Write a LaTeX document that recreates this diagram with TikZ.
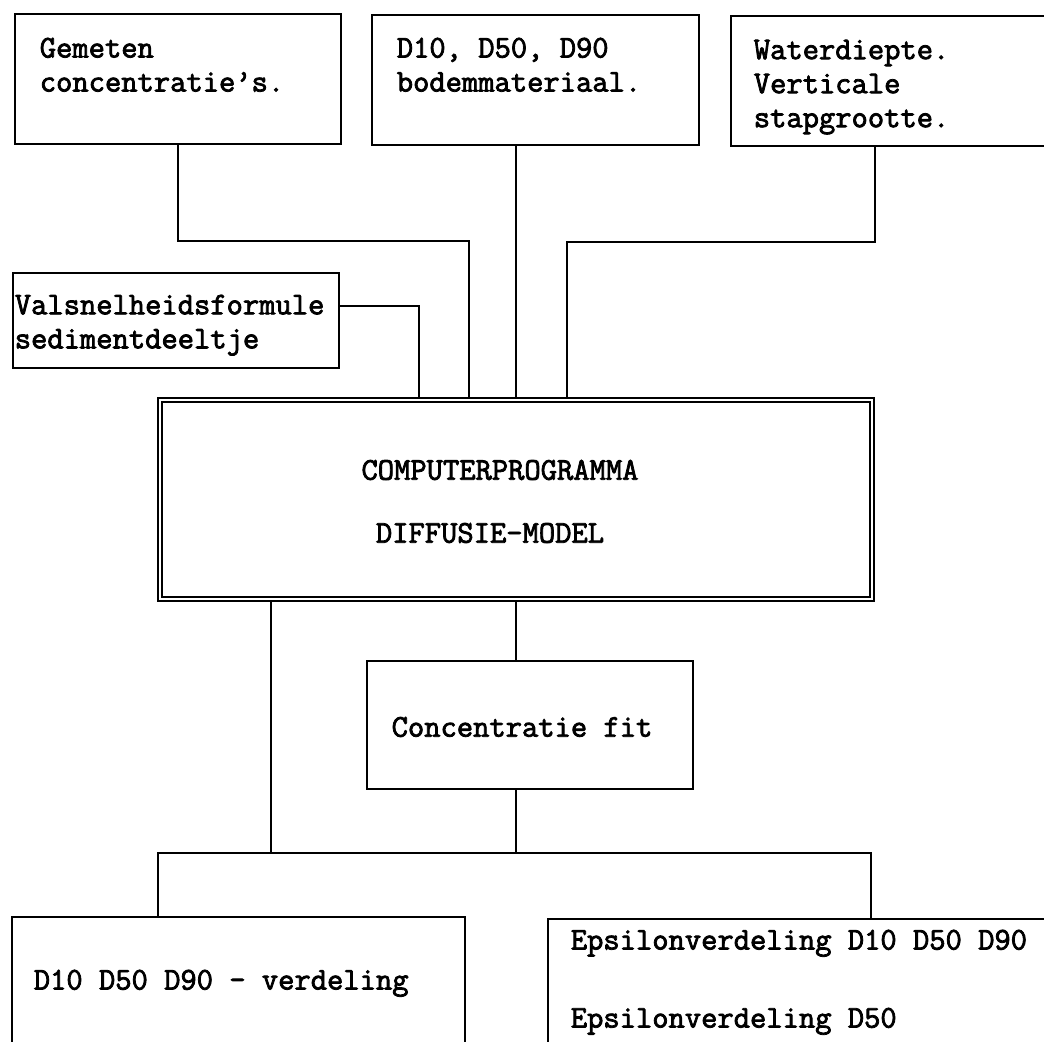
\documentclass[tikz,border=0pt]{standalone}
\usepackage{fontspec}
\setmonofont{Latin Modern Mono}[AutoFakeBold=2.5]
\usetikzlibrary{calc,fit}

\begin{document}
\begin{tikzpicture}[
  x=0.025cm, y=-0.025cm,
  box/.style={rectangle, draw, line width=2.1pt, inner sep=0pt},
  hoofdbox/.style={box, double, line width=1.8pt, double distance=1.2pt},
  tekst/.style={inner sep=0pt, align=left, font=\ttfamily\bfseries\fontsize{22.5}{24.2}\selectfont},
  lijn/.style={line width=2pt}
]
\useasboundingbox (0,0) rectangle (1044,1041);

\node[box, fit={(15,14) (341,144)}] (gemeten) {};
\node[box, fit={(372,15) (699,145)}] (korrel) {};
\node[box, fit={(731,16) (1100,146)}] (diepte) {};
\node[box, fit={(13,273) (339,368)}] (valsnelheid) {};
\node[hoofdbox, fit={(160,400) (872,599)}] (model) {};
\node[box, fit={(367,661) (693,789)}] (fit) {};
\node[box, fit={(12,917) (465,1100)}] (korrelverd) {};
\node[box, fit={(548,919) (1100,1100)}] (epsilon) {};

\node[tekst, anchor=north west] (gemetentxt) at ($(gemeten.north west)+(26,25)$) {Gemeten\\concentratie’s.};
\node[tekst, anchor=north west] (korreltxt) at ($(korrel.north west)+(26,24)$) {D10, D50, D90\\bodemmateriaal.};
\node[tekst, anchor=north west] (dieptetxt) at ($(diepte.north west)+(24,25)$) {Waterdiepte.\\Verticale\\stapgrootte.};
\node[tekst, anchor=north west] (valsnelheidtxt) at ($(valsnelheid.north west)+(3,23)$) {Valsnelheidsformule\\sedimentdeeltje};
\node[tekst] (titel) at (500,470) {COMPUTERPROGRAMMA};
\node[tekst] (modelnaam) at (490,533) {DIFFUSIE-MODEL};
\node[tekst] (fittxt) at (522,727) {Concentratie fit};
\node[tekst, anchor=north west] (korrelverdtxt) at ($(korrelverd.north west)+(23,54)$) {D10 D50 D90 - verdeling};
\node[tekst, anchor=north west] (epsilontxt) at ($(epsilon.north west)+(24,12)$) {Epsilonverdeling D10 D50 D90\\[1.1cm]Epsilonverdeling D50};

% invoer naar het model
\coordinate (k0) at (419,306);
\coordinate (k1) at (469,241);
\coordinate (k3) at (875,242);
\coordinate (k4) at (567,242);
\draw[lijn] (gemeten.south) |- (k1) -- (k1 |- model.north);
\draw[lijn] (korrel.south -| model.north) -- (model.north);
\draw[lijn] (k3 |- diepte.south) -- (k3) -- (k4) -- (k4 |- model.north);
\draw[lijn] (k0 -| valsnelheid.east) -- (k0) -- (k0 |- model.north);

% uitvoer
\coordinate (m1) at (271,853);
\coordinate (busL) at (158,853);
\coordinate (busR) at (871,853);
\draw[lijn] (m1 |- model.south) -- (m1);
\draw[lijn] (model.south) -- (model.south |- fit.north);
\draw[lijn] (model.south |- fit.south) -- (model.south |- busL);
\draw[lijn] (busL |- korrelverd.north) -- (busL) -- (busR) -- (busR |- epsilon.north);
\end{tikzpicture}
\end{document}
